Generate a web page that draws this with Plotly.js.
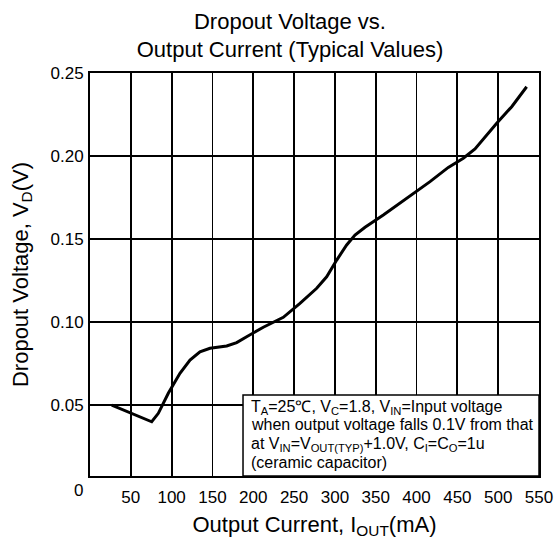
<!DOCTYPE html>
<html>
<head>
<meta charset="utf-8">
<script src="https://cdn.plot.ly/plotly-3.0.1.min.js"></script>
<style>html,body{margin:0;padding:0;background:#fff;}#chart{width:557px;height:542px;}</style>
</head>
<body>
<div id="chart"></div>
<script>
// Output current (mA)
const currentMA = [26.6, 75.6, 83.7, 95.9, 110.2, 122.5, 134.7, 147.0, 167.4, 179.7, 191.9, 212.3, 236.8, 257.2, 277.7, 289.9, 302.2, 314.4, 324.6, 336.9, 359.3, 387.9, 416.5, 438.9, 457.3, 471.6, 483.8, 498.2, 516.6, 534.9];
// Dropout voltage (V)
const dropoutV = [0.0498, 0.0397, 0.0448, 0.0569, 0.0689, 0.0769, 0.0819, 0.0840, 0.0854, 0.0874, 0.0910, 0.0967, 0.1027, 0.1111, 0.1202, 0.1271, 0.1372, 0.1463, 0.1523, 0.1570, 0.1644, 0.1744, 0.1845, 0.1931, 0.1986, 0.2042, 0.2116, 0.2197, 0.2297, 0.2417];
const xTicks = [50, 100, 150, 200, 250, 300, 350, 400, 450, 500, 550];
const xTickText = ["50", "100", "150", "200", "250", "300", "350", "400", "450", "500", "550"];
const yTicks = [0.05, 0.10, 0.15, 0.20, 0.25];
const yTickText = ["0.05", "0.10", "0.15", "0.20", "0.25"];
const noteLines = [
  'T<sub>A</sub>=25℃, V<sub>C</sub>=1.8, V<sub>IN</sub>=Input voltage',
  'when output voltage falls 0.1V from that',
  'at V<sub>IN</sub>=V<sub>OUT(TYP)</sub>+1.0V, C<sub>I</sub>=C<sub>O</sub>=1u',
  '(ceramic capacitor)'
];

const FONT = "Liberation Sans, Arial, sans-serif";

const trace = {
  x: currentMA, y: dropoutV, type: 'scatter', mode: 'lines',
  line: {color: '#000', width: 3}, hoverinfo: 'skip', showlegend: false
};

const noteY = [0.1712, 0.1266, 0.0794, 0.0323];
const noteAnns = noteLines.map((t, i) => ({
  xref: 'paper', yref: 'paper', x: 0.354, y: noteY[i], xanchor: 'left', yanchor: 'middle',
  align: 'left', showarrow: false,
  font: {family: FONT, size: 16, color: '#000'}, text: t
}));

const layout = {
  width: 557, height: 542,
  margin: {l: 90, r: 18, t: 73, b: 66},
  paper_bgcolor: '#fff', plot_bgcolor: '#fff',
  font: {family: FONT, color: '#000'},
  title: {
    text: 'Dropout Voltage vs.<br>Output Current (Typical Values)',
    font: {family: FONT, size: 22, color: '#000'},
    x: 0.5206, xref: 'container', xanchor: 'center',
    y: 0.947, yref: 'container', yanchor: 'middle'
  },
  xaxis: {
    range: [0, 550], tickvals: xTicks, ticktext: xTickText,
    ticks: '', showgrid: true, gridcolor: '#000', gridwidth: 1.8,
    showline: true, linecolor: '#000', linewidth: 2, mirror: true,
    zeroline: false, tickfont: {family: FONT, size: 17, color: '#000'},
    ticklabelstandoff: 5,
    title: {text: 'Output Current, I<sub>OUT</sub>(mA)', font: {family: FONT, size: 22, color: '#000'}, standoff: 10}
  },
  yaxis: {
    range: [0.007, 0.25], tickvals: yTicks, ticktext: yTickText,
    ticks: '', showgrid: true, gridcolor: '#000', gridwidth: 1.8,
    showline: true, linecolor: '#000', linewidth: 2, mirror: true,
    zeroline: false, tickfont: {family: FONT, size: 17, color: '#000'},
    ticklabelstandoff: 1,
    title: {text: 'Dropout Voltage, V<sub>D</sub>(V)', font: {family: FONT, size: 22, color: '#000'}, standoff: 16}
  },
  shapes: [{
    type: 'rect', xref: 'paper', yref: 'paper',
    x0: 0.3408, x1: 1, y0: 0, y1: 0.201,
    fillcolor: '#fff', line: {color: '#000', width: 1.5}, layer: 'above'
  }],
  annotations: noteAnns.concat([
    {
      xref: 'paper', yref: 'paper', x: -0.026, y: -0.035, xanchor: 'center', yanchor: 'middle',
      showarrow: false, font: {family: FONT, size: 17, color: '#000'}, text: '0'
    }
  ])
};

Plotly.newPlot('chart', [trace], layout, {staticPlot: true, displayModeBar: false});
</script>
</body>
</html>
